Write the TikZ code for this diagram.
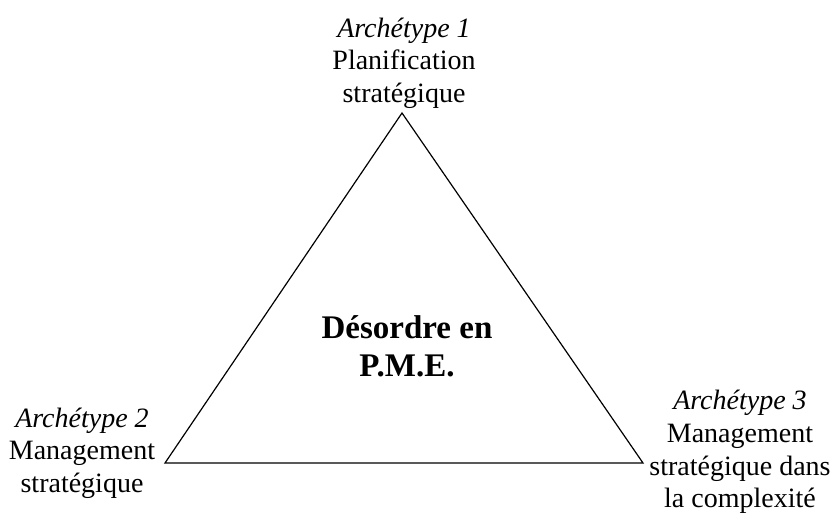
\documentclass[tikz,border=0pt]{standalone}
\usepackage{fontspec}
\setmainfont{Liberation Serif}
\usepackage{tikz}
\usetikzlibrary{positioning}

\begin{document}
\begin{tikzpicture}[
  x=0.5pt, y=-0.5pt,
  lbl/.style={align=center, inner sep=0pt, font=\fontsize{14}{16.3}\selectfont},
  titre/.style={align=center, inner sep=0pt, font=\fontsize{16.5}{19}\selectfont\bfseries},
  tri/.style={draw, line width=0.6pt, line join=miter},
]
  \useasboundingbox (0,0) rectangle (830,513);

  \coordinate (sommet) at (402,113);
  \coordinate (gauche) at (165,463);
  \coordinate (droite) at (643,463);
  \draw[tri] (sommet) -- (gauche) -- (droite) -- cycle;

  \node[lbl] (arch1) at (404,63) {\textit{Archétype 1}\\Planification\\stratégique};
  \node[lbl] (arch2) at (82,453) {\textit{Archétype 2}\\Management\\stratégique};
  \node[lbl] (arch3) at (740,452) {\textit{Archétype 3}\\Management\\stratégique dans\\la complexité};
  \node[titre] (centre) at (407,346) {Désordre en\\P.M.E.};
\end{tikzpicture}
\end{document}
